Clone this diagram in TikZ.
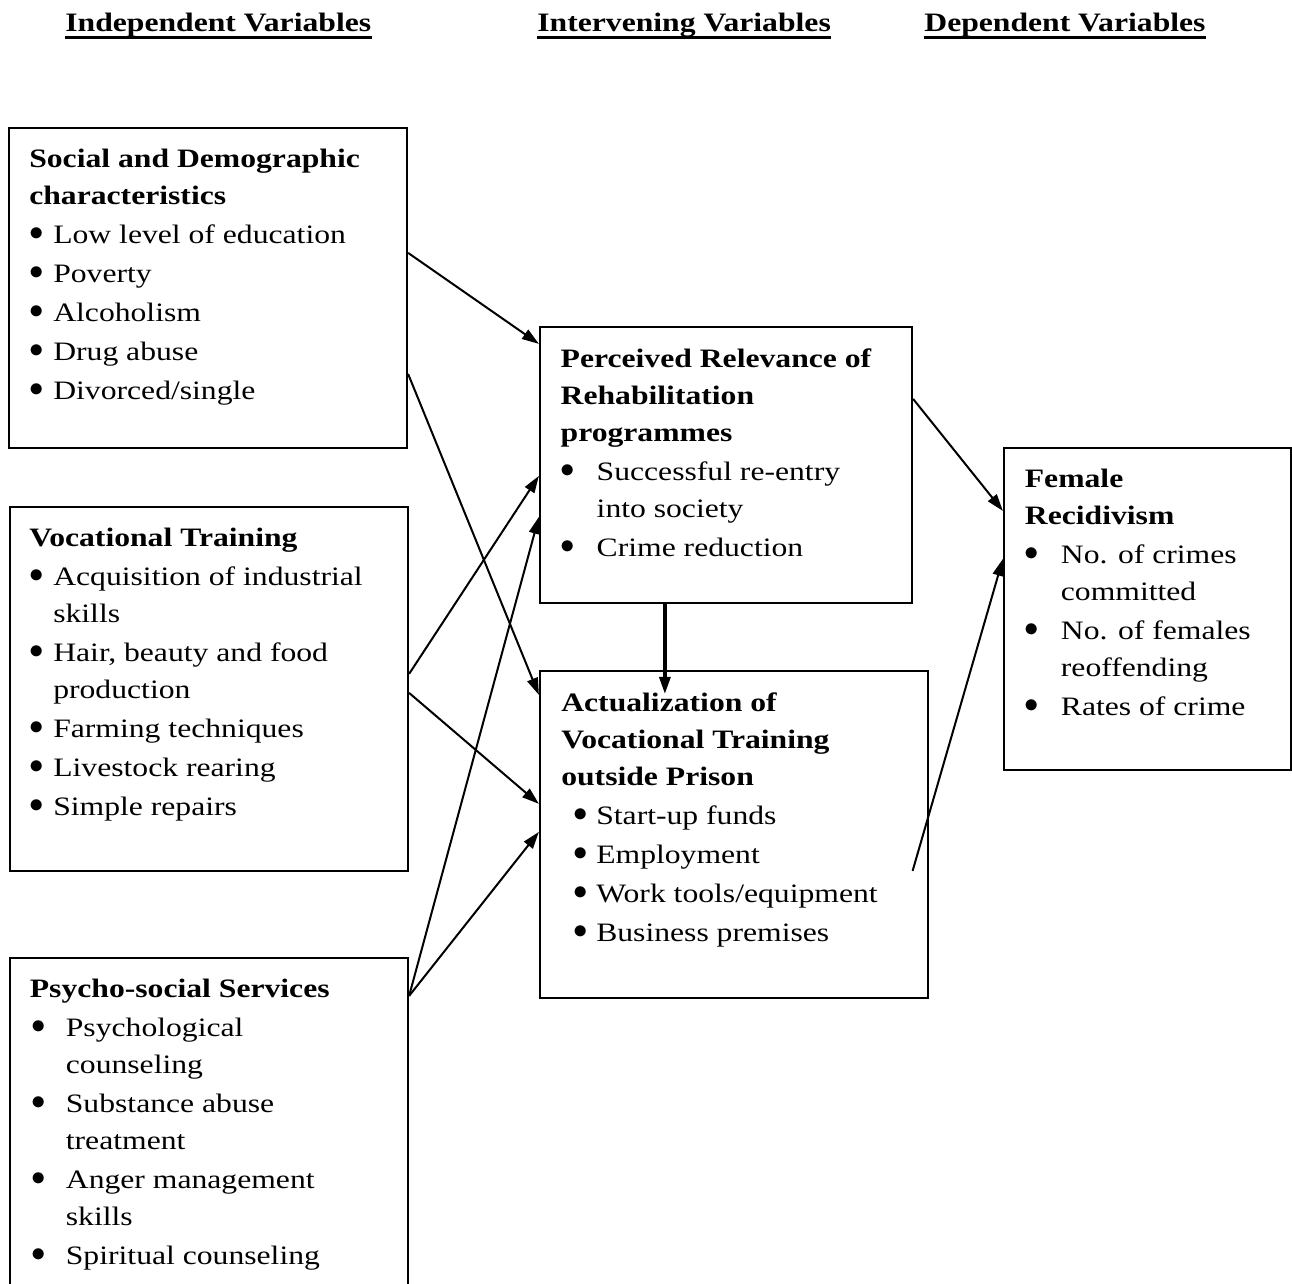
\documentclass[tikz,border=0pt]{standalone}
\usepackage{fontspec}
\setmainfont[FakeStretch=1.19]{Liberation Serif}
\usetikzlibrary{arrows.meta,calc,fit,positioning}
\newcommand{\bul}[2][0pt]{\hspace*{#1}\makebox[#2][l]{\raisebox{1.5pt}{$\bullet$}}}

\begin{document}
\begin{tikzpicture}[x=0.5pt, y=-0.5pt,
  every node/.style={font=\fontsize{13.3pt}{18.5pt}\selectfont},
  box/.style={draw, line width=1.1pt, inner sep=0pt},
  txt/.style={align=left, inner sep=0pt},
  hdr/.style={font=\fontsize{13.3pt}{18.5pt}\selectfont\bfseries, inner sep=0pt, anchor=base west},
  uline/.style={line width=1.65pt},
  arr/.style={-{Triangle[length=8.5pt,width=5.5pt]}, line width=1pt},
  bigarr/.style={arr, line width=1.6pt}]

\path[use as bounding box, clip] (0,0) rectangle (1292,1284);

%% Column headings
\node[hdr] (hdrind) at (65,32) {Independent Variables};
\node[hdr] (hdrint) at (537,32) {Intervening Variables};
\node[hdr] (hdrdep) at (924,32) {Dependent Variables};
\draw[uline] ($(hdrind.base west)+(0,5.7)$) -- ($(hdrind.base east)+(0,5.7)$);
\draw[uline] ($(hdrint.base west)+(0,5.7)$) -- ($(hdrint.base east)+(0,5.7)$);
\draw[uline] ($(hdrdep.base west)+(0,5.7)$) -- ($(hdrdep.base east)+(0,5.7)$);

%% Independent variables
\node[box, fit={(9,128) (407,448)}] (social) {};
\node[txt, below right=11pt and 10.5pt of social.north west] (socialtxt)
  {\textbf{Social and Demographic}\\
   \textbf{characteristics}\\[1pt]
   \bul{12pt}Low level of education\\[1pt]
   \bul{12pt}Poverty\\[1pt]
   \bul{12pt}Alcoholism\\[1pt]
   \bul{12pt}Drug abuse\\[1pt]
   \bul{12pt}Divorced/single};

\node[box, fit={(10,507) (408,871)}] (voc) {};
\node[txt, below right=11pt and 10pt of voc.north west] (voctxt)
  {\textbf{Vocational Training}\\[1pt]
   \bul{12pt}Acquisition of industrial\\
   \hspace*{12pt}skills\\[1pt]
   \bul{12pt}Hair, beauty and food\\
   \hspace*{12pt}production\\[1pt]
   \bul{12pt}Farming techniques\\[1pt]
   \bul{12pt}Livestock rearing\\[1pt]
   \bul{12pt}Simple repairs};

\node[box, fit={(10,958) (408,1310)}] (psy) {};
\node[txt, below right=11pt and 10.3pt of psy.north west] (psytxt)
  {\textbf{Psycho-social Services}\\[1pt]
   \bul[1pt]{17pt}Psychological\\
   \hspace*{18pt}counseling\\[1pt]
   \bul[1pt]{17pt}Substance abuse\\
   \hspace*{18pt}treatment\\[1pt]
   \bul[1pt]{17pt}Anger management\\
   \hspace*{18pt}skills\\[1pt]
   \bul[1pt]{17pt}Spiritual counseling};

%% Intervening variables
\node[box, fit={(540,327) (912,603)}] (perc) {};
\node[txt, below right=11pt and 10.7pt of perc.north west] (perctxt)
  {\textbf{Perceived Relevance of}\\
   \textbf{Rehabilitation}\\
   \textbf{programmes}\\[1pt]
   \bul{18pt}Successful re-entry\\
   \hspace*{18pt}into society\\[1pt]
   \bul{18pt}Crime reduction};

\node[box, fit={(540,671) (928,998)}] (act) {};
\node[txt, below right=11pt and 11pt of act.north west] (acttxt)
  {\textbf{Actualization of}\\
   \textbf{Vocational Training}\\
   \textbf{outside Prison}\\[1pt]
   \bul[6pt]{11.5pt}Start-up funds\\[1pt]
   \bul[6pt]{11.5pt}Employment\\[1pt]
   \bul[6pt]{11.5pt}Work tools/equipment\\[1pt]
   \bul[6pt]{11.5pt}Business premises};

%% Dependent variable
\node[box, fit={(1004,448) (1291,770)}] (fem) {};
\node[txt, below right=11pt and 10.8pt of fem.north west] (femtxt)
  {\textbf{Female}\\
   \textbf{Recidivism}\\[1pt]
   \bul{18pt}No. of crimes\\
   \hspace*{18pt}committed\\[1pt]
   \bul{18pt}No. of females\\
   \hspace*{18pt}reoffending\\[1pt]
   \bul{18pt}Rates of crime};

%% Links
\coordinate (psyout) at ($(psy.north east)+(0,39)$);
\coordinate (actout) at ($(act.north east)+(-16.5,201)$);
\draw[arr] ($(social.north east)+(0,126)$) -- ($(perc.north west)+(0,18)$);
\draw[arr] ($(social.north east)+(0,247)$) -- ($(act.north west)+(0,25)$);
\draw[arr] ($(voc.north east)+(0,168)$) -- ($(perc.north west)+(0,150)$);
\draw[arr] ($(voc.north east)+(0,187)$) -- ($(act.north west)+(0,134)$);
\draw[arr] (psyout) -- ($(perc.north west)+(0,191)$);
\draw[arr] (psyout) -- ($(act.north west)+(0,162)$);
\draw[bigarr] ($(perc.south west)+(126,0)$) -- ($(act.north west)+(126,24)$);
\draw[arr] ($(perc.north east)+(0,73)$) -- ($(fem.north west)+(0,64)$);
\draw[arr] (actout) -- ($(fem.north west)+(0,112)$);

\end{tikzpicture}
\end{document}
